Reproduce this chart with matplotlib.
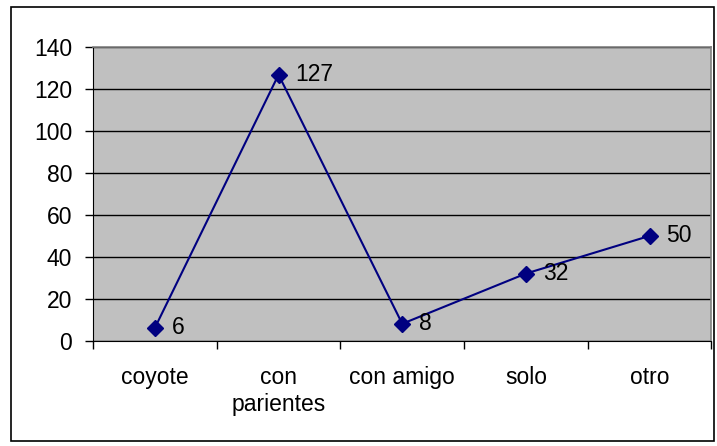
import matplotlib.pyplot as plt
from matplotlib.patches import Rectangle
from matplotlib.ticker import FixedLocator, NullFormatter

categories = ['coyote', 'con\nparientes', 'con amigo', 'solo', 'otro']
values = [6, 127, 8, 32, 50]

plt.rcParams['font.family'] = ['Liberation Sans', 'DejaVu Sans']
fs = 16.5

fig = plt.figure(figsize=(7.17, 4.46), dpi=100)
fig.patches.append(Rectangle((11 / 717, 1 - 441 / 446), 703 / 717, 434 / 446,
                             transform=fig.transFigure, fill=False,
                             edgecolor='black', linewidth=1.2))

ax = fig.add_axes([0.1297, 0.2365, 0.8626, 0.657])
ax.set_facecolor('#c0c0c0')

x = range(len(categories))
ax.plot(x, values, color='#000080', linewidth=1.5, marker='D', markersize=8.5,
        zorder=3)
for xi, v in zip(x, values):
    ax.annotate(str(v), (xi, v), xytext=(12, 0), textcoords='offset points',
                ha='left', va='center', fontsize=fs)

ax.set_xlim(-0.5, len(categories) - 0.5)
ax.set_ylim(0, 140)
ax.set_yticks(range(0, 141, 20))
ax.yaxis.grid(True, color='black', linewidth=1)
ax.set_axisbelow(True)

ax.set_xticks(list(x))
ax.set_xticklabels(categories, fontsize=fs, linespacing=1.25)
ax.tick_params(axis='x', length=0, pad=18)
ax.xaxis.set_minor_locator(FixedLocator([i - 0.5 for i in range(len(categories) + 1)]))
ax.xaxis.set_minor_formatter(NullFormatter())
ax.tick_params(axis='x', which='minor', length=6, width=1, direction='out')
ax.tick_params(axis='y', labelsize=fs, length=6, width=1, direction='out', pad=9)

for side in ['top', 'right']:
    ax.spines[side].set_color('#808080')
    ax.spines[side].set_linewidth(1.2)
ax.spines['left'].set_color('black')
ax.spines['bottom'].set_color('black')

fig.savefig('out.png', dpi=100)
